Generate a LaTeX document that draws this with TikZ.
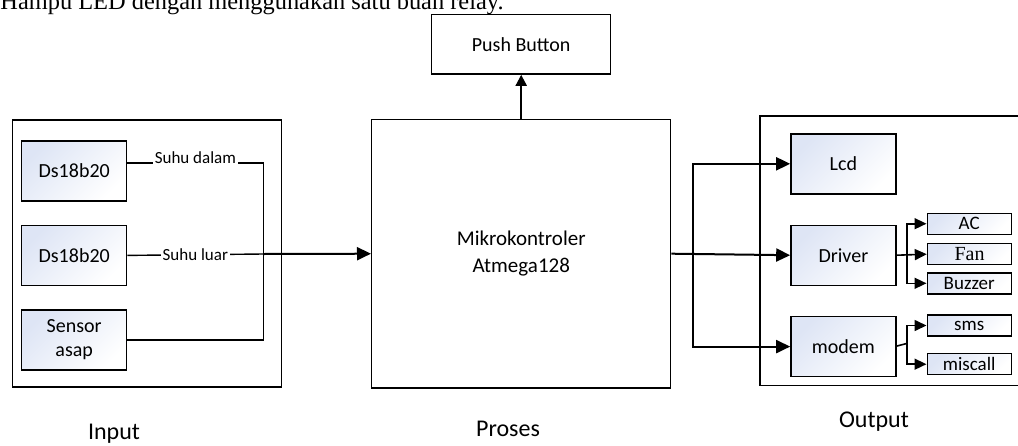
\documentclass[tikz,border=0pt]{standalone}
\usepackage{fontspec}
\setmainfont{Carlito}
\newfontfamily\serif{Liberation Serif}
\usetikzlibrary{positioning,arrows.meta,calc}
\definecolor{blkfill}{RGB}{222,229,245}
\tikzset{
  frame/.style={draw,line width=0.7pt,fill=white,inner sep=0pt},
  blk/.style={draw,line width=0.7pt,top color=blkfill,bottom color=white,
            shading angle=45,minimum width=52.5pt,minimum height=30pt,
            inner sep=0pt,align=center,font=\fontsize{10}{12}\selectfont},
  leaf/.style={draw,line width=0.7pt,top color=blkfill,bottom color=white,
            shading angle=45,minimum width=42pt,minimum height=10.5pt,
            inner sep=0pt,font=\fontsize{9.5}{10}\selectfont},
  wire/.style={line width=0.7pt},
  bus/.style={line width=1pt},
  sig/.style={bus,-{Triangle[length=7pt,width=6.5pt]}},
  leafsig/.style={line width=0.8pt,-{Triangle[length=6pt,width=5.5pt]}},
  tag/.style={fill=white,inner sep=1pt,font=\fontsize{8.5}{10}\selectfont},
  caption/.style={font=\fontsize{12}{14}\selectfont},
}

\begin{document}
\begin{tikzpicture}[x=0.5pt,y=-0.5pt]
  \clip (0,0) rectangle (1018,445);
  \useasboundingbox (0,0) rectangle (1018,445);
  \node[anchor=base west,inner sep=0pt,font=\serif\fontsize{12.2}{14}\selectfont]
    (head) at (0,9.5) {Hampu LED dengan menggunakan satu buah relay.};
  % Frames
  \node[frame,minimum width=134.5pt,minimum height=133.5pt] (inbox) at (147.2,253.5) {};
  \node[frame,minimum width=149.5pt,minimum height=134.3pt,font=\fontsize{10.5}{13.5}\selectfont,align=center]
    (mcu) at (521.2,253.7) {Mikrokontroler\\Atmega128};
  \node[frame,minimum width=89.5pt,minimum height=29.9pt,font=\fontsize{10}{12}\selectfont]
    (pb) at (521.2,44.2) {Push Button};
  \node[frame,minimum width=131pt,minimum height=134.7pt] (outbox) at (891,250.7) {};
  % Input side
  \node[blk] (s1) at (74.2,171) {Ds18b20};
  \node[blk,below=11.5pt of s1] (s2) {Ds18b20};
  \node[blk,below=11.5pt of s2] (s3) {Sensor\\asap};
  % Output side
  \node[blk] (lcd) at (843.4,163.8) {Lcd};
  \node[blk,below=15pt of lcd] (drv) {Driver};
  \node[blk,below=15pt of drv] (mdm) {modem};
  \node[leaf] (ac)  at (969.2,223.7) {AC};
  \node[leaf,font=\serif\fontsize{10}{10}\selectfont] (fan) at (969.5,254.2) {Fan};
  \node[leaf] (bz)  at (969.2,283.3) {Buzzer};
  \node[leaf] (sms) at (969.2,325.5) {sms};
  \node[leaf] (mc)  at (969.2,364.2) {miscall};
  % Junction points
  \coordinate (jin)  at (263.3,254);
  \coordinate (jout) at (692.7,254);
  \coordinate (jdrv) at (906.7,254);
  \coordinate (jmdm) at (906.7,343.5);
  % Sensor lines
  \draw[wire] ([yshift=4pt]s1.east) -- node[tag,anchor=base,inner sep=0.8pt]{Suhu dalam}
    ([yshift=4pt]s1.east -| jin) -- (s3.east -| jin) -- (s3.east);
  \draw[wire] (s2.east) -- node[tag]{Suhu luar} (jin);
  \draw[sig] (jin) -- (mcu.west);
  \draw[sig,-{Triangle[length=5.5pt,width=5.5pt]}] (mcu.north) -- (pb.south);
  % Controller outputs
  \draw[sig] (mcu.east) -- (drv.west);
  \draw[sig] (jout) |- (lcd.west);
  \draw[sig] (jout) |- (mdm.west);
  \draw[leafsig] (drv.east) -- (fan.west);
  \draw[leafsig] (jdrv) |- (ac.west);
  \draw[leafsig] (jdrv) |- (bz.west);
  \draw[line width=0.8pt] ([yshift=0.25pt]mdm.east) -- (jmdm);
  \draw[leafsig] (jmdm) |- (sms.west);
  \draw[leafsig] (jmdm) |- (mc.west);
  % Captions
  \node[caption] (lin)  at (114,434) {Input};
  \node[caption] (lpr)  at (508,429) {Proses};
  \node[caption] (lout) at (874,422) {Output};
\end{tikzpicture}
\end{document}
